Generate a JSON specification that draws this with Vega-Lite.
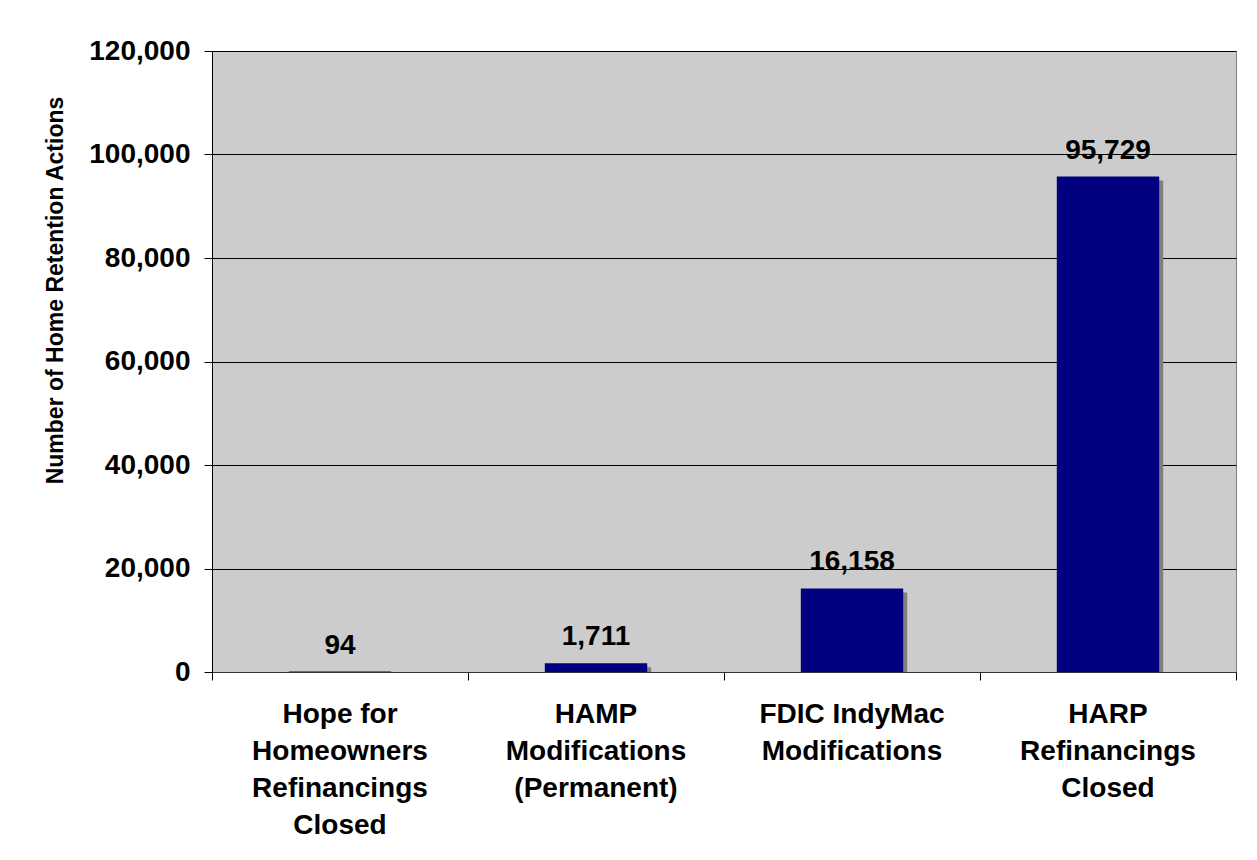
{
  "$schema": "https://vega.github.io/schema/vega-lite/v6.json",
  "width": 1024,
  "height": 621,
  "autosize": {"type": "none"},
  "padding": {"left": 212, "top": 51, "right": 21, "bottom": 188},
  "background": "white",
  "config": {
    "font": "Liberation Sans",
    "view": {"fill": "#CCCCCC", "stroke": "#808080", "strokeWidth": 1}
  },
  "data": {
    "values": [
      {"program": "Hope for Homeowners Refinancings Closed", "actions": 94},
      {"program": "HAMP Modifications (Permanent)", "actions": 1711},
      {"program": "FDIC IndyMac Modifications", "actions": 16158},
      {"program": "HARP Refinancings Closed", "actions": 95729}
    ]
  },
  "encoding": {
    "y": {
      "field": "actions",
      "type": "quantitative",
      "scale": {"domain": [0, 120000], "nice": false},
      "axis": {
        "title": "Number of Home Retention Actions",
        "titleFont": "Liberation Sans",
        "titleFontSize": 23,
        "titleFontWeight": "bold",
        "titleColor": "black",
        "titleAngle": -90,
        "titleX": -157,
        "titleY": 239,
        "titleAlign": "center",
        "titleBaseline": "middle",
        "values": [0, 20000, 40000, 60000, 80000, 100000, 120000],
        "format": ",d",
        "labelFont": "Liberation Sans",
        "labelFontSize": 28,
        "labelFontWeight": "bold",
        "labelColor": "black",
        "labelPadding": 14,
        "tickSize": 8,
        "tickColor": "black",
        "domainColor": "black",
        "grid": true,
        "gridColor": "black",
        "gridWidth": 1
      }
    }
  },
  "resolve": {"axis": {"x": "independent"}},
  "layer": [
    {
      "mark": {"type": "bar", "color": "#808080", "width": {"band": 0.4}, "xOffset": 4, "yOffset": 4, "clip": true},
      "encoding": {
        "x": {
          "field": "program",
          "type": "nominal",
          "sort": null,
          "scale": {"paddingInner": 0, "paddingOuter": 0},
          "axis": {
            "orient": "bottom",
            "title": null,
            "labels": false,
            "domain": false,
            "tickBand": "extent",
            "tickSize": 8,
            "tickColor": "black"
          }
        }
      }
    },
    {
      "mark": {"type": "bar", "color": "#000080", "width": {"band": 0.4}},
      "encoding": {
        "x": {
          "field": "program",
          "type": "nominal",
          "sort": null,
          "axis": {
            "orient": "bottom",
            "title": null,
            "labelAngle": 0,
            "labelFont": "Liberation Sans",
            "labelFontSize": 28,
            "labelFontWeight": "bold",
            "labelColor": "black",
            "labelPadding": 28,
            "labelLineHeight": 37,
            "labelBaseline": "top",
            "labelLimit": 400,
            "ticks": false,
            "domainColor": "#333333",
            "labelExpr": "datum.value == 'Hope for Homeowners Refinancings Closed' ? ['Hope for', 'Homeowners', 'Refinancings', 'Closed'] : datum.value == 'HAMP Modifications (Permanent)' ? ['HAMP', 'Modifications', '(Permanent)'] : datum.value == 'FDIC IndyMac Modifications' ? ['FDIC IndyMac', 'Modifications'] : ['HARP', 'Refinancings', 'Closed']"
          }
        }
      }
    },
    {
      "mark": {"type": "text", "baseline": "alphabetic", "dy": -18, "fontSize": 28, "fontWeight": "bold", "color": "black", "font": "Liberation Sans"},
      "encoding": {
        "x": {"field": "program", "type": "nominal", "sort": null, "axis": null},
        "text": {"field": "actions", "type": "quantitative", "format": ","}
      }
    }
  ]
}
